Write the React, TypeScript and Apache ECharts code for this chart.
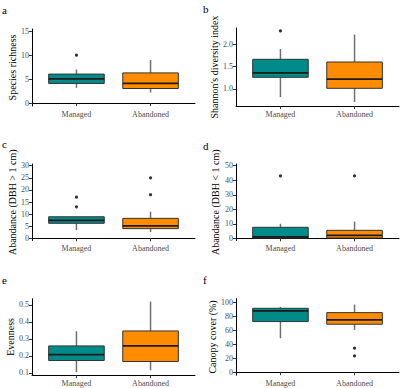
import React, { useEffect, useRef } from "react";
import * as echarts from "echarts";

const categories = ["Managed", "Abandoned"];
const boxColors = ["#008B8B", "#FF8C00"];

// [min, Q1, median, Q3, max] per category
const richnessBox = [[3.2, 4.1, 5.05, 6.05, 7], [2.2, 3.05, 4.1, 6.3, 9]];
const richnessOut = [[10], []];
const shannonBox = [[0.82, 1.26, 1.36, 1.66, 1.89], [0.71, 1.015, 1.22, 1.6, 2.21]];
const shannonOut = [[2.29], []];
const abundLargeBox = [[3.4, 6.2, 7.4, 8.9, 9], [2.6, 4.0, 5.1, 8.25, 11]];
const abundLargeOut = [[13, 17], [18, 25]];
const abundSmallBox = [[0, 0.2, 1, 7.6, 10], [0, 0.2, 2, 5.5, 11.5]];
const abundSmallOut = [[43], [43]];
const evenBox = [[0.105, 0.173, 0.208, 0.259, 0.345], [0.115, 0.167, 0.259, 0.347, 0.52]];
const evenOut = [[], []];
const canopyBox = [[48.6, 72.4, 87.6, 91.4, 93.3], [60.5, 68.6, 74.8, 85.2, 96.7]];
const canopyOut = [[], [34.3, 23.3]];

const richnessTicks = [0, 5, 10, 15];
const shannonTicks = [1.0, 1.5, 2.0];
const abundLargeTicks = [0, 5, 10, 15, 20, 25, 30];
const abundSmallTicks = [0, 10, 20, 30, 40, 50];
const evenTicks = [0.1, 0.2, 0.3, 0.4, 0.5];
const canopyTicks = [0, 20, 40, 60, 80, 100];

const FONT = "Liberation Serif";

const panels = [
  { tag: "a", name: "Species richness", box: richnessBox, out: richnessOut, ticks: richnessTicks, min: -0.6, max: 15.45, dec: 0, grid: { left: 32, top: 29, width: 163, height: 77 }, gap: 13, tagPos: [2, 4] },
  { tag: "b", name: "Shannon's diversity index", box: shannonBox, out: shannonOut, ticks: shannonTicks, min: 0.622, max: 2.356, dec: 1, grid: { left: 236, top: 28, width: 163, height: 78 }, gap: 17, tagPos: [203, 3] },
  { tag: "c", name: "Abandance (DBH > 1 cm)", box: abundLargeBox, out: abundLargeOut, ticks: abundLargeTicks, min: -0.9, max: 30.7, dec: 0, grid: { left: 32, top: 164, width: 163, height: 76.5 }, gap: 13, tagPos: [2, 138] },
  { tag: "d", name: "Abandance (DBH < 1 cm)", box: abundSmallBox, out: abundSmallOut, ticks: abundSmallTicks, min: -1.5, max: 51.2, dec: 0, grid: { left: 236, top: 164, width: 163, height: 76.5 }, gap: 16, tagPos: [203, 140] },
  { tag: "e", name: "Evenness", box: evenBox, out: evenOut, ticks: evenTicks, min: 0.0865, max: 0.537, dec: 1, grid: { left: 32, top: 298.7, width: 163, height: 76.5 }, gap: 14, tagPos: [2, 274] },
  { tag: "f", name: "Canopy cover (%)", box: canopyBox, out: canopyOut, ticks: canopyTicks, min: -4.3, max: 105.1, dec: 0, grid: { left: 236, top: 298.7, width: 163, height: 76.5 }, gap: 16, tagPos: [203, 274] },
];

function renderBox(params: any, api: any) {
  const x = api.value(0);
  const lo = api.value(1);
  const q1 = api.value(2);
  const med = api.value(3);
  const q3 = api.value(4);
  const hi = api.value(5);
  const hw = 0.375;
  const tl = api.coord([x - hw, q3]);
  const br = api.coord([x + hw, q1]);
  const mL = api.coord([x - hw, med]);
  const mR = api.coord([x + hw, med]);
  const pHi = api.coord([x, hi]);
  const pQ3 = api.coord([x, q3]);
  const pQ1 = api.coord([x, q1]);
  const pLo = api.coord([x, lo]);
  const color = boxColors[params.dataIndex];
  return {
    type: "group",
    children: [
      { type: "line", shape: { x1: pHi[0], y1: pHi[1], x2: pQ3[0], y2: pQ3[1] }, style: { stroke: "#707070", lineWidth: 1.5 } },
      { type: "line", shape: { x1: pLo[0], y1: pLo[1], x2: pQ1[0], y2: pQ1[1] }, style: { stroke: "#707070", lineWidth: 1.5 } },
      { type: "rect", shape: { x: tl[0], y: tl[1], width: br[0] - tl[0], height: br[1] - tl[1] }, style: { fill: color, stroke: "#333333", lineWidth: 1 } },
      { type: "line", shape: { x1: mL[0], y1: mL[1], x2: mR[0], y2: mR[1] }, style: { stroke: "#1a1a1a", lineWidth: 1.8 } },
    ],
  };
}

export default function App() {
  const ref = useRef<HTMLDivElement>(null);
  useEffect(() => {
    if (!ref.current) return;
    const chart = echarts.init(ref.current, null, { renderer: "svg" });
    const grid: any[] = [];
    const xAxis: any[] = [];
    const yAxis: any[] = [];
    const series: any[] = [];
    const graphic: any[] = [];
    panels.forEach((p, i) => {
      grid.push({ ...p.grid, containLabel: false });
      xAxis.push({
        type: "value",
        gridIndex: i,
        min: 0.4,
        max: 2.6,
        splitLine: { show: false },
        axisLine: { show: true, lineStyle: { color: "#000", width: 1 } },
        axisTick: { show: true, customValues: [1, 2], length: 3, lineStyle: { color: "#333" } },
        axisLabel: {
          show: true,
          customValues: [1, 2],
          formatter: (v: number) => categories[Math.round(v) - 1] || "",
          fontFamily: FONT,
          fontSize: 8,
          color: "#4D4D4D",
          margin: 4,
        },
      });
      yAxis.push({
        type: "value",
        gridIndex: i,
        min: p.min,
        max: p.max,
        name: p.name,
        nameLocation: "middle",
        nameGap: p.gap,
        nameTextStyle: { fontFamily: FONT, fontSize: 10, color: "#000" },
        splitLine: { show: false },
        axisLine: { show: true, lineStyle: { color: "#000", width: 1 } },
        axisTick: { show: true, customValues: p.ticks, length: 3, lineStyle: { color: "#333" } },
        axisLabel: {
          show: true,
          customValues: p.ticks,
          formatter: (v: number) => v.toFixed(p.dec),
          fontFamily: FONT,
          fontSize: 8,
          color: "#4D4D4D",
          margin: 3,
        },
      });
      series.push({
        type: "custom",
        xAxisIndex: i,
        yAxisIndex: i,
        renderItem: renderBox,
        encode: { x: 0, y: [1, 2, 3, 4, 5] },
        data: p.box.map((b, k) => [k + 1, ...b]),
        z: 2,
      });
      const outs: number[][] = [];
      p.out.forEach((arr, k) => arr.forEach((v) => outs.push([k + 1, v])));
      series.push({
        type: "scatter",
        xAxisIndex: i,
        yAxisIndex: i,
        symbol: "circle",
        symbolSize: 3.2,
        itemStyle: { color: "#000" },
        data: outs,
        z: 3,
      });
      graphic.push({
        type: "text",
        left: p.tagPos[0],
        top: p.tagPos[1],
        style: { text: p.tag, fontFamily: FONT, fontSize: 11, fill: "#000" },
      });
    });
    chart.setOption({
      animation: false,
      backgroundColor: "#fff",
      grid,
      xAxis,
      yAxis,
      series,
      graphic,
    });
    return () => chart.dispose();
  }, []);
  return <div ref={ref} style={{ position: "fixed", left: 0, top: 0, width: 400, height: 388 }} />;
}
